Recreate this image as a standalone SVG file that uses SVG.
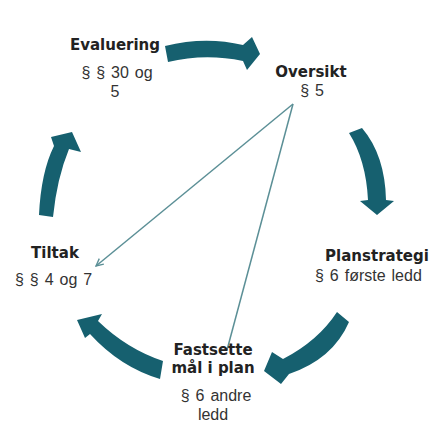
<svg xmlns="http://www.w3.org/2000/svg" width="435" height="423" viewBox="0 0 435 423">
<style>
.b{font-family:"DejaVu Sans",sans-serif;font-weight:bold;font-size:15px;fill:#222}
.r{font-family:"Liberation Sans",Arial,sans-serif;font-size:16px;fill:#333;word-spacing:1.5px}
.arr{fill:#16606f}
.thin{stroke:#5b8f96;stroke-width:1.5;fill:none}
</style>
<defs>
<marker id="ah" viewBox="0 0 10 10" refX="9" refY="5" markerWidth="9" markerHeight="9" orient="auto" markerUnits="userSpaceOnUse">
<path d="M1,1 L9,5 L1,9" fill="none" stroke="#5b8f96" stroke-width="1.5"/>
</marker>
</defs>
<rect width="435" height="423" fill="#fff"/>
<g id="connectors">
<path class="arr" d="M165,46 Q205,36 243,45 L252,37 L260,54 L247,70 L243,61 Q205,53 168,62 Z"/>
<path class="arr" d="M349,133 L362,128 Q385,155 386,200 L394,201 L377,215 L360,201 L368,200 Q366,160 349,133 Z"/>
<path class="arr" d="M337,312 L349,322 Q333,359 289,374 L281,384 L264,371 L272,352 L283,359 Q318,341 337,312 Z"/>
<path class="arr" d="M163,361 Q127,349 98,321 L102,314 L77,320 L85,338 L90,334 Q120,367 160,379 Z"/>
<path class="arr" d="M39,215 Q41,172 54,146 L51,137 L72,132 L81,152 L69,149 Q57,178 53,217 Z"/>
<line class="thin" x1="293" y1="104" x2="96" y2="266" marker-end="url(#ah)"/>
<line class="thin" x1="293" y1="104" x2="227" y2="350"/>
</g>
<g id="evaluering">
<text class="b" x="115" y="50" text-anchor="middle">Evaluering</text>
<text class="r" x="117" y="78" text-anchor="middle">§ § 30 og</text>
<text class="r" x="115" y="97" text-anchor="middle">5</text>
</g>
<g id="oversikt">
<text class="b" x="311" y="77" text-anchor="middle">Oversikt</text>
<text class="r" x="312" y="96" text-anchor="middle">§ 5</text>
</g>
<g id="planstrategi">
<text class="b" x="377" y="261" text-anchor="middle">Planstrategi</text>
<text class="r" x="315" y="281">§ 6 første ledd</text>
</g>
<g id="fastsette">
<text class="b" x="213" y="355" text-anchor="middle">Fastsette</text>
<text class="b" x="213" y="373" text-anchor="middle">mål i plan</text>
<text class="r" x="216" y="401" text-anchor="middle">§ 6 andre</text>
<text class="r" x="213" y="420" text-anchor="middle">ledd</text>
</g>
<g id="tiltak">
<text class="b" x="55" y="258" text-anchor="middle">Tiltak</text>
<text class="r" x="15" y="285">§ § 4 og 7</text>
</g>
</svg>
